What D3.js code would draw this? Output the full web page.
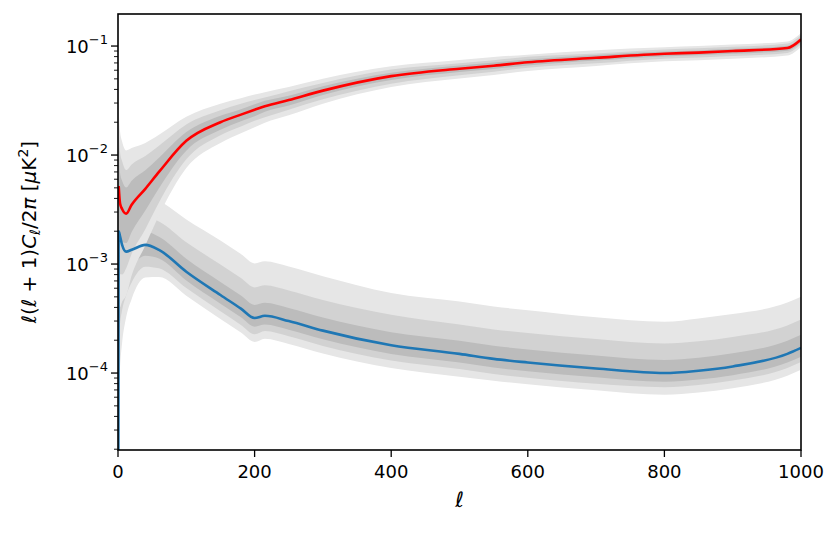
<!DOCTYPE html>
<html><head><meta charset="utf-8">
<script src="https://cdn.jsdelivr.net/npm/d3@7"></script>
<style>body{margin:0;background:#fff}text{font-family:"DejaVu Sans",sans-serif}</style>
</head><body><svg id="c" width="832" height="535"></svg>
<script>
// multipole knots
const ell = [1, 3, 6, 12, 20, 40, 60, 100, 150, 180, 200, 215, 250, 300, 400, 500, 550, 600, 700, 800, 850, 900, 980, 1000];
// mean spectra
const redMean = [5.2e-3, 3.6e-3, 3.2e-3, 2.9e-3, 3.5e-3, 4.9e-3, 7e-3, 1.35e-2, 2e-2, 2.35e-2, 2.6e-2, 2.8e-2, 3.2e-2, 3.9e-2, 5.3e-2, 6.2e-2, 6.6e-2, 7.1e-2, 7.8e-2, 8.5e-2, 8.7e-2, 9e-2, 9.6e-2, 1.15e-1];
const blueMean = [2e-3, 1.8e-3, 1.5e-3, 1.3e-3, 1.35e-3, 1.5e-3, 1.35e-3, 8.5e-4, 5.2e-4, 3.9e-4, 3.2e-4, 3.35e-4, 3e-4, 2.45e-4, 1.8e-4, 1.5e-4, 1.35e-4, 1.25e-4, 1.1e-4, 1.0e-4, 1.05e-4, 1.15e-4, 1.5e-4, 1.7e-4];
// band half-widths in decades: [68%, 95%, 99%] upper / lower
const redUp = [[0.3, 0.5, 0.7], [0.28, 0.47, 0.66], [0.26, 0.44, 0.62], [0.24, 0.4, 0.58], [0.22, 0.37, 0.52], [0.17, 0.3, 0.42], [0.13, 0.24, 0.34], [0.08, 0.15, 0.22], [0.06, 0.11, 0.17], [0.05, 0.1, 0.15], [0.05, 0.09, 0.14], [0.05, 0.08, 0.13], [0.04, 0.08, 0.12], [0.04, 0.07, 0.11], [0.03, 0.06, 0.09], [0.03, 0.05, 0.08], [0.03, 0.05, 0.08], [0.025, 0.05, 0.07], [0.025, 0.04, 0.07], [0.02, 0.04, 0.06], [0.02, 0.04, 0.06], [0.02, 0.04, 0.06], [0.02, 0.04, 0.06], [0.02, 0.04, 0.06]];
const redDn = [[0.35, 0.7, 1.0], [0.33, 0.65, 0.95], [0.3, 0.6, 0.85], [0.27, 0.5, 0.75], [0.25, 0.45, 0.65], [0.2, 0.37, 0.52], [0.15, 0.28, 0.4], [0.09, 0.17, 0.25], [0.07, 0.12, 0.19], [0.06, 0.11, 0.17], [0.06, 0.1, 0.16], [0.05, 0.1, 0.15], [0.05, 0.09, 0.14], [0.04, 0.08, 0.12], [0.035, 0.07, 0.1], [0.03, 0.06, 0.09], [0.03, 0.055, 0.085], [0.03, 0.05, 0.08], [0.025, 0.05, 0.075], [0.025, 0.045, 0.07], [0.025, 0.045, 0.07], [0.025, 0.045, 0.07], [0.025, 0.045, 0.07], [0.025, 0.045, 0.07]];
const blueUp = [[0.3, 0.55, 0.8], [0.25, 0.45, 0.7], [0.2, 0.4, 0.6], [0.18, 0.35, 0.55], [0.15, 0.3, 0.5], [0.12, 0.26, 0.45], [0.12, 0.26, 0.45], [0.12, 0.27, 0.48], [0.12, 0.28, 0.5], [0.12, 0.28, 0.5], [0.12, 0.28, 0.5], [0.12, 0.28, 0.5], [0.12, 0.28, 0.5], [0.12, 0.28, 0.5], [0.12, 0.28, 0.48], [0.12, 0.27, 0.48], [0.12, 0.27, 0.48], [0.12, 0.27, 0.48], [0.12, 0.27, 0.47], [0.12, 0.27, 0.47], [0.12, 0.27, 0.48], [0.12, 0.27, 0.48], [0.12, 0.26, 0.47], [0.12, 0.26, 0.47]];
const blueDn = [[0.5, 1.0, 1.5], [0.4, 0.8, 1.2], [0.3, 0.6, 0.9], [0.2, 0.4, 0.6], [0.15, 0.3, 0.45], [0.1, 0.2, 0.3], [0.08, 0.17, 0.25], [0.08, 0.15, 0.22], [0.08, 0.15, 0.22], [0.08, 0.15, 0.22], [0.08, 0.15, 0.22], [0.08, 0.14, 0.21], [0.08, 0.14, 0.21], [0.08, 0.14, 0.21], [0.08, 0.14, 0.21], [0.08, 0.14, 0.21], [0.08, 0.14, 0.2], [0.08, 0.14, 0.2], [0.08, 0.14, 0.2], [0.08, 0.13, 0.2], [0.08, 0.13, 0.2], [0.08, 0.13, 0.2], [0.08, 0.13, 0.2], [0.08, 0.13, 0.2]];
const xTicks = [0, 200, 400, 600, 800, 1000];
const yTicks = [-4, -3, -2, -1];
const bandColors = ["#e6e6e6", "#d2d2d2", "#bcbcbc"];

const svg = d3.select("#c");
const m = {l: 118, r: 801, t: 14, b: 450};
const x = d3.scaleLinear().domain([0, 1000]).range([m.l, m.r]);
const y = d3.scaleLog().domain([Math.pow(10, -4.706), Math.pow(10, -0.706)]).range([m.b, m.t]);

svg.append("clipPath").attr("id", "clip").append("rect")
  .attr("x", m.l).attr("y", m.t).attr("width", m.r - m.l).attr("height", m.b - m.t);
const g = svg.append("g").attr("clip-path", "url(#clip)");

const curve = d3.curveMonotoneX;
function drawBands(mean, up, dn) {
  for (let k = 2; k >= 0; k--) {
    const area = d3.area().curve(curve)
      .x((d, i) => x(ell[i]))
      .y0((d, i) => y(mean[i] / Math.pow(10, dn[i][k])))
      .y1((d, i) => y(mean[i] * Math.pow(10, up[i][k])));
    g.append("path").datum(mean).attr("d", area).attr("fill", bandColors[2 - k]);
  }
}
drawBands(blueMean, blueUp, blueDn);
drawBands(redMean, redUp, redDn);
const line = d3.line().curve(curve).x((d, i) => x(ell[i])).y(d => y(d));
g.append("path").datum([1e-5, ...blueMean]).attr("d",
  d3.line().curve(curve).x((d, i) => x(i === 0 ? 0.5 : ell[i - 1])).y(d => y(d)))
  .attr("fill", "none").attr("stroke", "#1f77b4").attr("stroke-width", 2.6);
g.append("path").datum(redMean).attr("d", line).attr("fill", "none").attr("stroke", "#ff0000").attr("stroke-width", 2.6);

// frame
svg.append("rect").attr("x", m.l).attr("y", m.t).attr("width", m.r - m.l).attr("height", m.b - m.t)
  .attr("fill", "none").attr("stroke", "#000").attr("stroke-width", 1.6);

// x axis
const xa = svg.append("g");
xTicks.forEach(t => {
  xa.append("line").attr("x1", x(t)).attr("x2", x(t)).attr("y1", m.b).attr("y2", m.b + 7).attr("stroke", "#000").attr("stroke-width", 1.3);
  xa.append("text").attr("x", x(t)).attr("y", m.b + 28).attr("text-anchor", "middle").attr("font-size", 18).text(t);
});
svg.append("text").attr("x", (m.l + m.r) / 2).attr("y", m.b + 57).attr("text-anchor", "middle")
  .attr("font-size", 21).attr("font-style", "italic").text("ℓ");

// y axis
const ya = svg.append("g");
for (let e = -5; e <= -1; e++) {
  for (let k = 1; k <= 9; k++) {
    const v = k * Math.pow(10, e);
    if (v < y.domain()[0] || v > y.domain()[1]) continue;
    const len = k === 1 ? 7 : 4;
    ya.append("line").attr("x1", m.l - len).attr("x2", m.l).attr("y1", y(v)).attr("y2", y(v))
      .attr("stroke", "#000").attr("stroke-width", k === 1 ? 1.3 : 0.9);
  }
}
yTicks.forEach(e => {
  const t = ya.append("text").attr("x", m.l - 10).attr("y", y(Math.pow(10, e)) + 7).attr("text-anchor", "end").attr("font-size", 18);
  t.append("tspan").text("10");
  t.append("tspan").attr("font-size", 13).attr("dy", -9).text("−" + (-e));
});
const yl = svg.append("text").attr("transform", `translate(36,${(m.t + m.b) / 2}) rotate(-90)`)
  .attr("text-anchor", "middle").attr("font-size", 20);
yl.append("tspan").attr("font-style", "italic").text("ℓ");
yl.append("tspan").text("(");
yl.append("tspan").attr("font-style", "italic").text("ℓ");
yl.append("tspan").text(" + 1)");
yl.append("tspan").attr("font-style", "italic").text("C");
yl.append("tspan").attr("font-style", "italic").attr("font-size", 14).attr("dy", 4).text("ℓ");
yl.append("tspan").attr("dy", -4).text("/2");
yl.append("tspan").attr("font-style", "italic").text("π");
yl.append("tspan").text(" [");
yl.append("tspan").attr("font-style", "italic").text("μ");
yl.append("tspan").text("K");
yl.append("tspan").attr("font-size", 14).attr("dy", -8).text("2");
yl.append("tspan").attr("dy", 8).text("]");
</script></body></html>
